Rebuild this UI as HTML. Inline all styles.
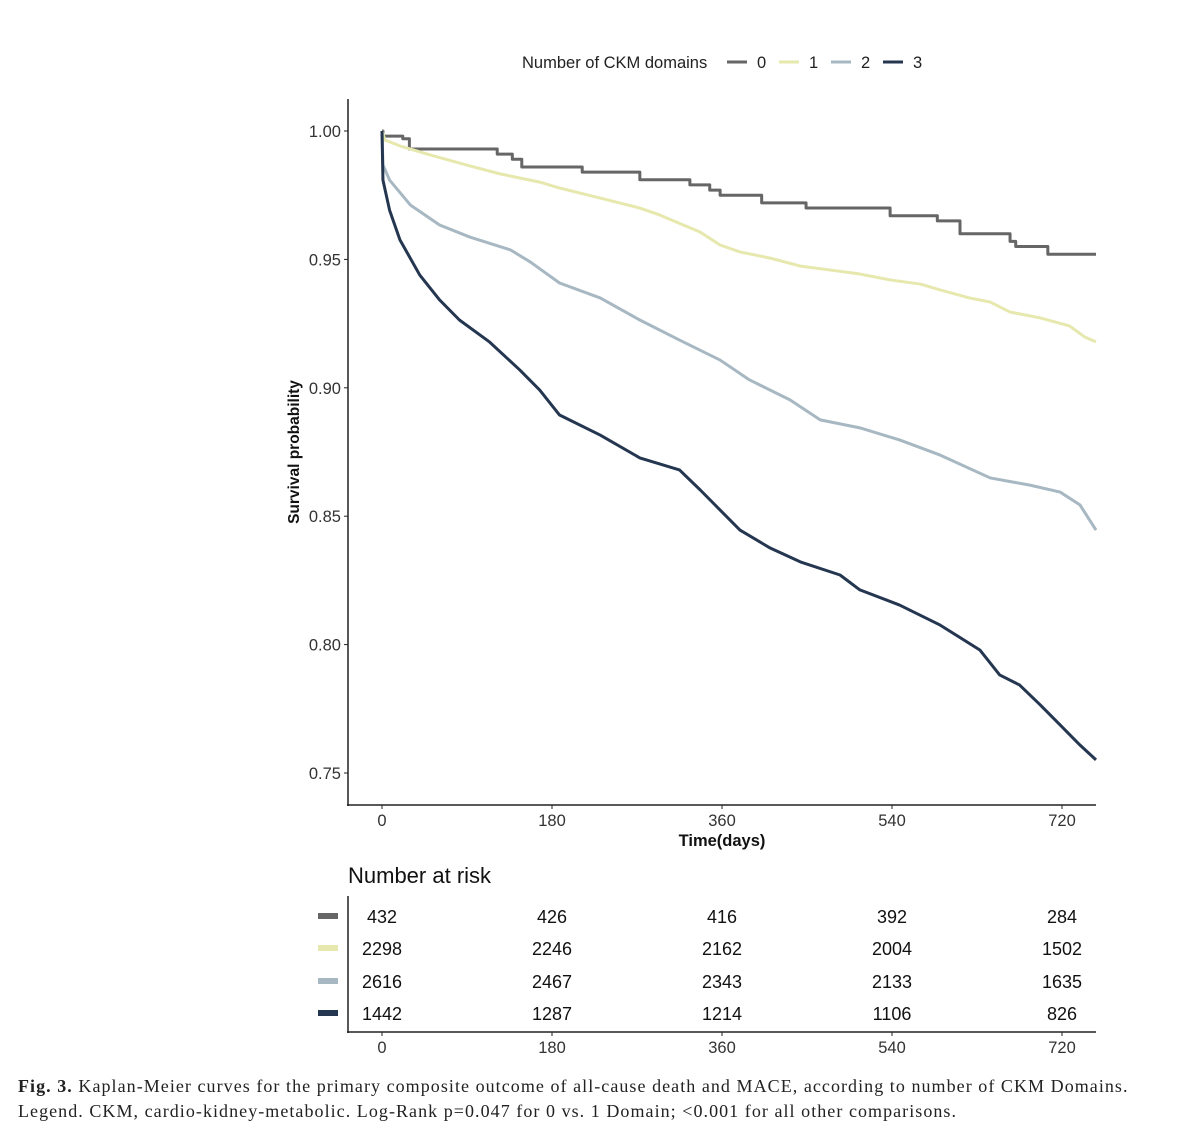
<!DOCTYPE html>
<html><head><meta charset="utf-8"><style>
body{margin:0;background:#fff;width:1200px;height:1138px;overflow:hidden}
svg text{font-family:"Liberation Sans",sans-serif}
.cap{position:absolute;left:18px;font-family:"Liberation Serif",serif;font-size:18px;letter-spacing:1.05px;color:#222;white-space:nowrap}
</style></head><body>
<svg id="chart" width="1200" height="1138" style="position:absolute;left:0;top:0">
<g id="legend">
<text x="522" y="68" font-size="16.5" fill="#222">Number of CKM domains</text>
</g>
<g id="axes"></g>
<g id="curves"></g>
<text x="0" y="0" transform="translate(299,452) rotate(-90)" text-anchor="middle" font-size="15.5" font-weight="bold" fill="#111">Survival probability</text>
<text x="722" y="846" text-anchor="middle" font-size="16.5" font-weight="bold" fill="#111">Time(days)</text>
<text x="348" y="883" font-size="22" fill="#111">Number at risk</text>
<g id="risk"></g>
</svg>
<div class="cap" style="top:1076px"><b>Fig. 3.</b> Kaplan-Meier curves for the primary composite outcome of all-cause death and MACE, according to number of CKM Domains.</div>
<div class="cap" style="top:1101px">Legend. CKM, cardio-kidney-metabolic. Log-Rank p=0.047 for 0 vs. 1 Domain; &lt;0.001 for all other comparisons.</div>
<script>
const groups=["0","1","2","3"];
const colors=["#666666","#e6e8ae","#a7b8c3","#243650"];
const xTicks=[0,180,360,540,720];
const yTicks=[0.75,0.80,0.85,0.90,0.95,1.00];
const days0=[0,1,22,29,122,138,148,212,273,326,347,358,402,449,538,588,612,665,671,705,756];
const surv0=[1,0.998,0.997,0.993,0.991,0.989,0.986,0.984,0.981,0.979,0.977,0.975,0.972,0.970,0.967,0.965,0.960,0.957,0.955,0.952,0.952];
const days1=[0,3,19,51,93,125,167,188,231,273,294,337,358,379,411,443,474,506,538,570,591,622,644,665,697,728,744,756];
const surv1=[1,0.9965,0.9942,0.9907,0.9864,0.9833,0.9801,0.9778,0.9739,0.9700,0.9673,0.9606,0.9556,0.9529,0.9505,0.9474,0.9459,0.9443,0.9420,0.9404,0.9381,0.9350,0.9334,0.9295,0.9272,0.9241,0.9198,0.9179];
const days2=[0,1,8,30,61,93,136,157,188,231,273,315,358,389,432,464,506,548,591,644,686,718,739,756];
const surv2=[1,0.9868,0.9809,0.9712,0.9634,0.9587,0.9537,0.9490,0.9408,0.9350,0.9264,0.9186,0.9108,0.9031,0.8953,0.8875,0.8844,0.8797,0.8738,0.8649,0.8621,0.8594,0.8544,0.8446];
const days3=[0,1,8,19,40,61,82,114,146,167,188,231,273,315,337,358,379,411,443,485,506,548,591,633,654,675,697,718,739,756];
const surv3=[1,0.9809,0.9692,0.9576,0.9439,0.9342,0.9264,0.9178,0.9069,0.8991,0.8894,0.8816,0.8727,0.8680,0.8602,0.8524,0.8446,0.8376,0.8322,0.8271,0.8213,0.8154,0.8076,0.7979,0.7882,0.7843,0.7765,0.7687,0.7609,0.7551];
const risk0=[432,426,416,392,284];
const risk1=[2298,2246,2162,2004,1502];
const risk2=[2616,2467,2343,2133,1635];
const risk3=[1442,1287,1214,1106,826];
const NS="http://www.w3.org/2000/svg";
const X=d=>382+d*(680/720);
const Y=s=>131+(1-s)*2568;
function mk(tag,attrs,parent){const e=document.createElementNS(NS,tag);for(const k in attrs)e.setAttribute(k,attrs[k]);parent.appendChild(e);return e;}
const axes=document.getElementById('axes');
let l=mk('line',{x1:348,y1:99,x2:348,y2:806,stroke:'#222','stroke-width':1.5},axes);


l=mk('line',{x1:347,y1:805,x2:1096,y2:805,stroke:'#222','stroke-width':1.5},axes);


yTicks.forEach(v=>{const y=Y(v);
 mk('line',{x1:344,y1:y,x2:348,y2:y,stroke:'#222'},axes);
 const t=mk('text',{x:341,y:y+6,'text-anchor':'end','font-size':16.5,fill:'#333'},axes);
 t.textContent=v.toFixed(2);
 
 });
xTicks.forEach(v=>{const x=X(v);
 mk('line',{x1:x,y1:805,x2:x,y2:809,stroke:'#222'},axes);
 const t=mk('text',{x:x,y:826,'text-anchor':'middle','font-size':16.5,fill:'#333'},axes);
 t.textContent=v;
 
 });
const cv=document.getElementById('curves');
const D=[days0,days1,days2,days3],S=[surv0,surv1,surv2,surv3];
D.forEach((ds,i)=>{let p='M'+X(ds[0])+','+Y(S[i][0]);
 for(let j=1;j<ds.length;j++){
  if(i===0){p+='H'+X(ds[j])+'V'+Y(S[i][j]);}
  else{p+='L'+X(ds[j])+','+Y(S[i][j]);}
 }
 const e=mk('path',{d:p,fill:'none',stroke:colors[i],'stroke-width':3,'stroke-linejoin':'round'},cv);
 
 });
const lg=document.getElementById('legend');
const lx=[727,779,831,883];
groups.forEach((g,i)=>{
 const e=mk('line',{x1:lx[i],y1:62,x2:lx[i]+20,y2:62,stroke:colors[i],'stroke-width':3},lg);
 
 
 const t=mk('text',{x:lx[i]+30,y:68,'font-size':16.5,fill:'#222'},lg);
 t.textContent=g;
 
 });
const rk=document.getElementById('risk');
l=mk('line',{x1:348,y1:896,x2:348,y2:1033,stroke:'#222','stroke-width':1.5},rk);


l=mk('line',{x1:347,y1:1032,x2:1096,y2:1032,stroke:'#222','stroke-width':1.5},rk);


const R=[risk0,risk1,risk2,risk3],ry=[916,948,981,1013];
R.forEach((row,i)=>{
 const sw=mk('rect',{x:318,y:ry[i]-3,width:20,height:6,fill:colors[i]},rk);
 
 
 row.forEach((v,j)=>{const t=mk('text',{x:X(xTicks[j]),y:ry[i]+7,'text-anchor':'middle','font-size':18,fill:'#111'},rk);
  t.textContent=v;
  
  });});
xTicks.forEach(v=>{const x=X(v);
 mk('line',{x1:x,y1:1032,x2:x,y2:1036,stroke:'#222'},rk);
 const t=mk('text',{x:x,y:1053,'text-anchor':'middle','font-size':16.5,fill:'#333'},rk);
 t.textContent=v;
 
 });
</script>
</body></html>
